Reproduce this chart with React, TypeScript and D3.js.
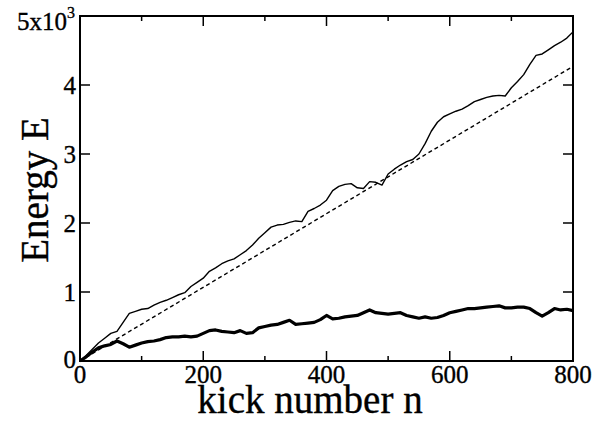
import * as d3 from 'd3';
import React, { useEffect, useRef } from 'react';

// kick number sampling (every 10 kicks)
const kicks = d3.range(0, 801, 10);

// thin curve - energy of first trajectory
const thinEnergy = [
  0, 80, 170, 260, 330, 400, 430, 560, 690, 720,
  750, 760, 810, 850, 880, 920, 960, 990, 1080, 1140,
  1200, 1300, 1350, 1410, 1450, 1480, 1540, 1600, 1680, 1780,
  1860, 1940, 1970, 1980, 2010, 2030, 2020, 2170, 2210, 2260,
  2330, 2470, 2530, 2560, 2570, 2510, 2500, 2600, 2590, 2550,
  2710, 2780, 2840, 2890, 2920, 3000, 3150, 3330, 3460, 3540,
  3580, 3620, 3650, 3700, 3760, 3790, 3820, 3840, 3850, 3840,
  3960, 4050, 4150, 4300, 4430, 4450, 4510, 4570, 4620, 4680,
  4770,
];

// thick curve - energy of second trajectory
const thickEnergy = [
  0, 60, 130, 190, 220, 240, 290, 250, 200, 230,
  260, 280, 290, 310, 340, 350, 350, 360, 350, 360,
  400, 440, 450, 430, 420, 410, 440, 400, 410, 480,
  500, 520, 530, 560, 590, 530, 540, 550, 560, 600,
  660, 610, 620, 640, 650, 660, 700, 740, 700, 690,
  680, 690, 700, 660, 640, 620, 640, 620, 630, 660,
  700, 720, 740, 760, 760, 770, 780, 790, 800, 770,
  770, 780, 780, 760, 700, 650, 700, 760, 740, 750,
  730,
];

// dashed linear growth
const fitKicks = [0, 800];
const fitEnergy = [0, 4270];

const xTicks = [0, 200, 400, 600, 800];
const xMinorTicks = [100, 300, 500, 700];
const yTicks = [0, 1000, 2000, 3000, 4000, 5000];
const yTickLabels = ['0', '1', '2', '3', '4', ''];

function App() {
  const ref = useRef<SVGSVGElement>(null);

  useEffect(() => {
    const svg = d3.select(ref.current);
    svg.selectAll('*').remove();

    const left = 80, right = 573, top = 16, bottom = 361;
    const font = '"Liberation Serif", "Times New Roman", serif';

    const x = d3.scaleLinear().domain([0, 800]).range([left, right]);
    const y = d3.scaleLinear().domain([0, 5000]).range([bottom, top]);

    const line = d3.line<number>()
      .x((d, i) => x(kicks[i]))
      .y(d => y(d));

    // curves
    svg.append('path')
      .attr('d', line(thickEnergy))
      .attr('fill', 'none')
      .attr('stroke', '#000')
      .attr('stroke-width', 3.2)
      .attr('stroke-linejoin', 'round');

    svg.append('path')
      .attr('d', line(thinEnergy))
      .attr('fill', 'none')
      .attr('stroke', '#000')
      .attr('stroke-width', 1.4)
      .attr('stroke-linejoin', 'round');

    const fitLine = d3.line<number>()
      .x((d, i) => x(fitKicks[i]))
      .y(d => y(d));
    svg.append('path')
      .attr('d', fitLine(fitEnergy))
      .attr('fill', 'none')
      .attr('stroke', '#000')
      .attr('stroke-width', 1.4)
      .attr('stroke-dasharray', '4,3');

    // frame
    svg.append('rect')
      .attr('x', left).attr('y', top)
      .attr('width', right - left).attr('height', bottom - top)
      .attr('fill', 'none')
      .attr('stroke', '#000')
      .attr('stroke-width', 2);

    // ticks, pointing inward on all four sides
    const ticks = svg.append('g').attr('stroke', '#000').attr('stroke-width', 1.5);
    const xt = [...xTicks.map(v => ({ v, len: 10 })), ...xMinorTicks.map(v => ({ v, len: 5 }))];
    xt.forEach(t => {
      ticks.append('line').attr('x1', x(t.v)).attr('x2', x(t.v)).attr('y1', bottom).attr('y2', bottom - t.len);
      ticks.append('line').attr('x1', x(t.v)).attr('x2', x(t.v)).attr('y1', top).attr('y2', top + t.len);
    });
    yTicks.forEach(v => {
      ticks.append('line').attr('x1', left).attr('x2', left + 10).attr('y1', y(v)).attr('y2', y(v));
      ticks.append('line').attr('x1', right).attr('x2', right - 10).attr('y1', y(v)).attr('y2', y(v));
    });

    const textStyle = (sel: any, size: number) => sel
      .attr('font-family', font)
      .attr('font-size', size)
      .attr('fill', '#000')
      .attr('stroke', '#000')
      .attr('stroke-width', 0.35);

    // tick labels
    svg.append('g').selectAll('text')
      .data(xTicks)
      .join('text')
      .attr('x', d => x(d))
      .attr('y', 383)
      .attr('text-anchor', 'middle')
      .call(textStyle, 25)
      .text(d => d);

    svg.append('g').selectAll('text')
      .data(yTicks.slice(0, 5))
      .join('text')
      .attr('x', 76)
      .attr('y', (d, i) => y(d) + (i === 0 ? 7 : 9))
      .attr('text-anchor', 'end')
      .call(textStyle, 25)
      .text((d, i) => yTickLabels[i]);

    // top label 5x10^3
    const top5 = svg.append('text')
      .attr('x', 17)
      .attr('y', 30)
      .call(textStyle, 25);
    top5.append('tspan').text('5x10');
    top5.append('tspan').attr('font-size', 16).attr('dy', -12).text('3');

    // axis titles
    svg.append('text')
      .attr('x', 310)
      .attr('y', 413)
      .attr('text-anchor', 'middle')
      .call(textStyle, 39)
      .text('kick number n');

    svg.append('text')
      .attr('transform', 'translate(48,190) rotate(-90)')
      .attr('text-anchor', 'middle')
      .call(textStyle, 39)
      .text('Energy E');
  }, []);

  return (
    <svg
      ref={ref}
      width={609}
      height={422}
      style={{ position: 'absolute', left: 0, top: 0, background: '#fff' }}
    />
  );
}

export default App;
